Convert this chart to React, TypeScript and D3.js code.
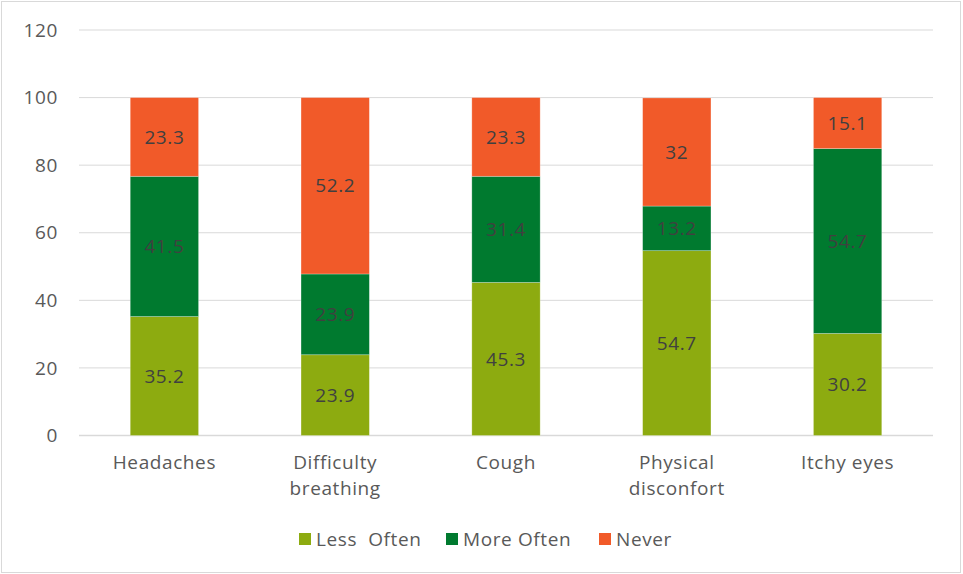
import React from "react";
import * as d3 from "d3";

const categories = ["Headaches", "Difficulty breathing", "Cough", "Physical disconfort", "Itchy eyes"];
const categoryLines = [["Headaches"], ["Difficulty", "breathing"], ["Cough"], ["Physical", "disconfort"], ["Itchy eyes"]];
const seriesNames = ["Less  Often", "More Often", "Never"];
const lessOften = [35.2, 23.9, 45.3, 54.7, 30.2];
const moreOften = [41.5, 23.9, 31.4, 13.2, 54.7];
const never = [23.3, 52.2, 23.3, 32, 15.1];
const yTicks = [0, 20, 40, 60, 80, 100, 120];
const colors = ["#8DAB10", "#007A2F", "#F15A29"];

const W = 963;
const H = 574;
const FONT = "'Open Sans', 'DejaVu Sans', sans-serif";
const LS = 0.6;

export default function App() {
  const x = d3.scaleBand<string>().domain(categories).range([79, 933]).paddingInner(0.6).paddingOuter(0.3);
  const y = d3.scaleLinear().domain([0, 120]).range([435.5, 30]);
  const series = [lessOften, moreOften, never];
  const rows = categories.map((c, i) => ({ cat: c, s0: lessOften[i], s1: moreOften[i], s2: never[i] }));
  const stack = d3.stack<any>().keys(["s0", "s1", "s2"])(rows);

  return (
    <svg width={W} height={H} style={{ position: "absolute", left: 0, top: 0, background: "#fff" }} fontFamily={FONT} letterSpacing={LS}>
      <rect x={1.5} y={1.5} width={W - 4} height={H - 3} fill="#fff" stroke="#d9d9d9" strokeWidth={1} />
      {yTicks.map((t) => (
        <g key={t}>
          <line x1={79} x2={933} y1={y(t)} y2={y(t)} stroke="#d9d9d9" strokeWidth={t === 0 ? 1.5 : 1} />
          <text x={58} y={y(t)} dy="0.35em" textAnchor="end" fontSize={19} fill="#595959">{t}</text>
        </g>
      ))}
      {stack.map((layer, si) => (
        <g key={si}>
          {layer.map((d, i) => {
            const cat = categories[i];
            const y0 = y(d[0]);
            const y1 = y(d[1]);
            return (
              <g key={i}>
                <rect x={x(cat)} y={y1} width={x.bandwidth()} height={y0 - y1} fill={colors[si]} stroke="#ffffff" strokeOpacity={0.35} strokeWidth={0.75} />
                <text x={(x(cat) as number) + x.bandwidth() / 2} y={(y0 + y1) / 2} dy="0.35em" textAnchor="middle" fontSize={19} fill="#404040">
                  {series[si][i]}
                </text>
              </g>
            );
          })}
        </g>
      ))}
      {categoryLines.map((lines, i) => (
        <text key={i} textAnchor="middle" fontSize={19} fill="#595959">
          {lines.map((l, j) => (
            <tspan key={j} x={(x(categories[i]) as number) + x.bandwidth() / 2} y={469 + j * 26}>{l}</tspan>
          ))}
        </text>
      ))}
      {seriesNames.map((n, i) => {
        const lx = [299, 446, 599][i];
        return (
          <g key={n}>
            <rect x={lx} y={533} width={12} height={12} fill={colors[i]} />
            <text x={lx + 17} y={546} fontSize={19} fill="#595959" style={{ whiteSpace: "pre" }}>{n}</text>
          </g>
        );
      })}
    </svg>
  );
}
